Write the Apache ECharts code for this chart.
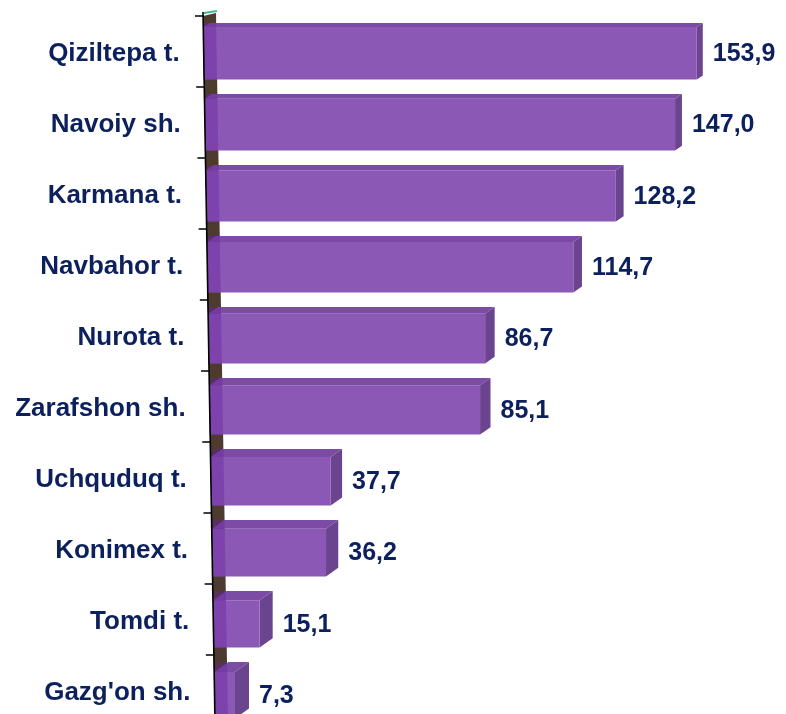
<!DOCTYPE html>
<html>
<head>
<meta charset="utf-8">
<script src="https://cdn.jsdelivr.net/npm/echarts@6/dist/echarts.min.js"></script>
<style>
  html, body { margin: 0; padding: 0; background: #fff; }
  #main { width: 786px; height: 714px; }
</style>
</head>
<body>
<div id="main"></div>
<script>
// categories and values
const categories = ['Qiziltepa t.', 'Navoiy sh.', 'Karmana t.', 'Navbahor t.', 'Nurota t.',
  'Zarafshon sh.', 'Uchquduq t.', 'Konimex t.', 'Tomdi t.', "Gazg'on sh."];
const values = [153.9, 147.0, 128.2, 114.7, 86.7, 85.1, 37.7, 36.2, 15.1, 7.3];

const textColor = '#0c205e';
const catFont = 'bold 26px "Liberation Sans", Arial, sans-serif';
const valFont = 'bold 25px "Liberation Sans", Arial, sans-serif';

const chart = echarts.init(document.getElementById('main'), null, { renderer: 'canvas' });

// slanted "wall" of the 3d axis
function axisX(api, y) {
  const band = api.size([0, 1])[1];
  const p = api.coord([0, 0]);
  const top = p[1] - band / 2;
  return p[0] - 9 + (y - top) * 0.017;
}

function fmt(v) {
  return v.toFixed(1).replace('.', ',');
}

function renderBar(params, api) {
  const i = api.value(0);
  const v = api.value(1);
  const c = api.coord([v, i]);
  const t = i / (categories.length - 1);
  const dy = 4 + 6 * t;
  const dx = 6 + 8 * t;
  const yc = c[1];
  const topY = yc - 28.5;
  const fTop = topY + dy;
  const fBot = yc + 28;
  const xl = axisX(api, yc);
  const xr = c[0];
  const wall = 13;
  return {
    type: 'group',
    children: [
      { type: 'polygon', shape: { points: [[xl, fTop], [xr, fTop], [xr + dx, topY], [xl + dx, topY]] },
        style: { fill: '#7b4ba6' } },
      { type: 'polygon', shape: { points: [[xr, fTop], [xr + dx, topY], [xr + dx, fBot - dy], [xr, fBot]] },
        style: { fill: '#6b4490' } },
      { type: 'rect', shape: { x: xl, y: fTop, width: xr - xl, height: fBot - fTop },
        style: { fill: '#8c58b6' } },
      // darker overlay where the bar passes the wall
      { type: 'polygon', shape: { points: [[axisX(api, topY), topY], [axisX(api, topY) + wall, topY],
        [axisX(api, fBot) + wall, fBot], [axisX(api, fBot), fBot]] },
        style: { fill: 'rgba(105,35,160,0.4)' } },
      { type: 'text', x: xr + dx + 10, y: (fTop + fBot) / 2 + 1,
        style: { text: fmt(v), font: valFont, fill: textColor, align: 'left', verticalAlign: 'middle' } },
      { type: 'text', x: axisX(api, yc) - 24, y: yc + 2,
        style: { text: categories[i], font: catFont, fill: textColor, align: 'right', verticalAlign: 'middle' } }
    ]
  };
}

function renderWall(params, api) {
  const band = api.size([0, 1])[1];
  const top = api.coord([0, 0])[1] - band / 2;
  const bottom = api.coord([0, categories.length - 1])[1] + band / 2;
  const wall = 13;
  return {
    type: 'group',
    children: [
      { type: 'polygon', shape: { points: [[axisX(api, top), top], [axisX(api, top) + wall, top - 3],
        [axisX(api, bottom) + wall, bottom], [axisX(api, bottom), bottom]] },
        style: { fill: '#4c3b2e' } }
    ]
  };
}

function renderAxis(params, api) {
  const band = api.size([0, 1])[1];
  const top = api.coord([0, 0])[1] - band / 2;
  const bottom = api.coord([0, categories.length - 1])[1] + band / 2;
  const children = [
    { type: 'line', shape: { x1: axisX(api, top) + 1, y1: top - 3, x2: axisX(api, top) + 14, y2: top - 5 },
      style: { stroke: '#3cb8a0', lineWidth: 2 } },
    { type: 'line', shape: { x1: axisX(api, top), y1: top - 4, x2: axisX(api, bottom), y2: bottom },
      style: { stroke: '#000', lineWidth: 1.6 } }
  ];
  for (let k = 0; k < categories.length; k++) {
    const y = api.coord([0, k])[1] - band / 2;
    children.push({ type: 'line', shape: { x1: axisX(api, y) - 8, y1: y, x2: axisX(api, y), y2: y },
      style: { stroke: '#000', lineWidth: 1.5 } });
  }
  return { type: 'group', children: children };
}

const option = {
  animation: false,
  grid: { left: 212, top: 16, width: 567, height: 710, outerBoundsMode: 'none' },
  xAxis: { type: 'value', min: 0, max: 180, show: false },
  yAxis: { type: 'category', data: categories, inverse: true, show: false },
  series: [
    { type: 'custom', z: 1, renderItem: renderWall, data: [[0, 0]] },
    { type: 'custom', z: 2, renderItem: renderBar, encode: { x: 1, y: 0 },
      data: values.map((v, i) => [i, v]) },
    { type: 'custom', z: 3, renderItem: renderAxis, data: [[0, 0]] }
  ]
};

chart.setOption(option);
</script>
</body>
</html>
